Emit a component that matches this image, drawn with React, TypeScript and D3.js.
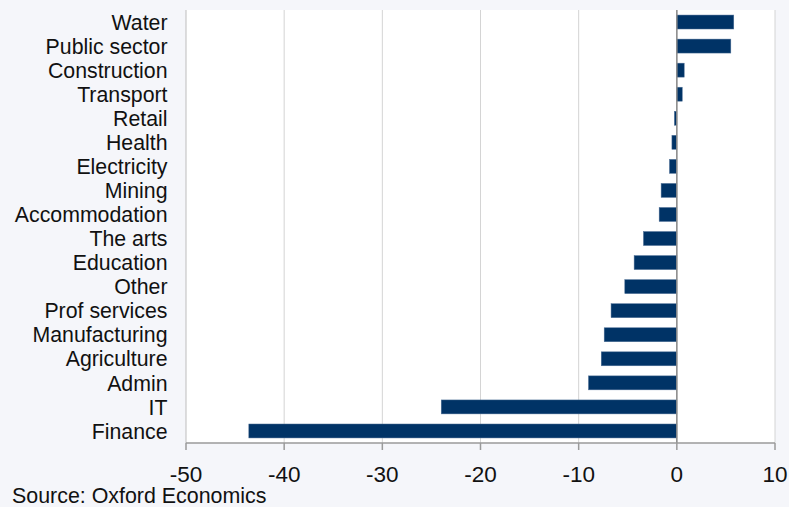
import React from "react";
import * as d3 from "d3";

// Change by sector
const categories: string[] = [
  "Water",
  "Public sector",
  "Construction",
  "Transport",
  "Retail",
  "Health",
  "Electricity",
  "Mining",
  "Accommodation",
  "The arts",
  "Education",
  "Other",
  "Prof services",
  "Manufacturing",
  "Agriculture",
  "Admin",
  "IT",
  "Finance",
];

const values: number[] = [
  5.8, 5.5, 0.75, 0.55, -0.25, -0.5, -0.75, -1.6, -1.8, -3.4, -4.35, -5.3,
  -6.7, -7.4, -7.7, -9.0, -24.0, -43.6,
];

const xTicks: number[] = [-50, -40, -30, -20, -10, 0, 10];
const xDomain: [number, number] = [-50, 10];
const sourceText = "Source: Oxford Economics";

const W = 789;
const H = 507;
const margin = { top: 10, right: 14, bottom: 64, left: 186 };
const FONT = "'Liberation Sans', Arial, sans-serif";

export default function App() {
  const innerW = W - margin.left - margin.right;
  const innerH = H - margin.top - margin.bottom;

  const x = d3.scaleLinear().domain(xDomain).range([margin.left, margin.left + innerW]);
  const y = d3
    .scaleBand<string>()
    .domain(categories)
    .range([margin.top, margin.top + innerH])
    .paddingInner(0.42)
    .paddingOuter(0.21);

  const x0 = x(0);
  const bottom = margin.top + innerH;

  return (
    <svg
      width={W}
      height={H}
      style={{ position: "absolute", left: 0, top: 0, display: "block" }}
      fontFamily={FONT}
    >
      <rect x={0} y={0} width={W} height={H} fill="#f5f6fa" />
      <rect x={margin.left} y={margin.top} width={innerW} height={innerH} fill="#ffffff" />

      {/* vertical gridlines */}
      {xTicks.map((t) => (
        <line
          key={`g${t}`}
          x1={x(t)}
          x2={x(t)}
          y1={margin.top}
          y2={bottom}
          stroke={t === xDomain[0] ? "#bdbdbd" : "#d4d4d4"}
          strokeWidth={1}
        />
      ))}

      {/* bars */}
      {categories.map((c, i) => {
        const v = values[i];
        return (
          <rect
            key={c}
            x={Math.min(x(v), x0)}
            y={y(c)}
            width={Math.abs(x(v) - x0)}
            height={y.bandwidth()}
            fill="#003366"
            stroke="#4d6f96"
            strokeWidth={0.5}
          />
        );
      })}

      {/* zero line */}
      <line x1={x0} x2={x0} y1={margin.top} y2={bottom} stroke="#8a8a8a" strokeWidth={1.5} />

      {/* x axis */}
      <line x1={margin.left} x2={margin.left + innerW} y1={bottom} y2={bottom} stroke="#9a9a9a" strokeWidth={1.5} />
      {xTicks.map((t) => (
        <g key={`t${t}`}>
          <line x1={x(t)} x2={x(t)} y1={bottom} y2={bottom + 7} stroke="#9a9a9a" strokeWidth={1.5} />
          <text x={x(t)} y={481.5} textAnchor="middle" fontSize={22.5} fill="#111">
            {t}
          </text>
        </g>
      ))}

      {/* category labels */}
      {categories.map((c) => (
        <text
          key={`l${c}`}
          x={167.5}
          y={(y(c) as number) + y.bandwidth() / 2}
          dy="0.36em"
          textAnchor="end"
          fontSize={21.3}
          fill="#111"
        >
          {c}
        </text>
      ))}

      <text x={12} y={502.5} fontSize={21.4} fill="#111">
        {sourceText}
      </text>
    </svg>
  );
}
